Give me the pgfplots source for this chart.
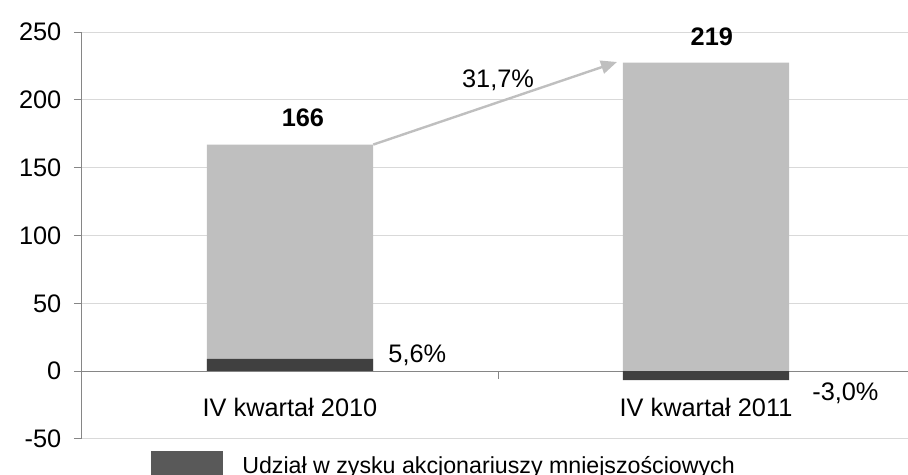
\documentclass[border=0pt]{standalone}
\usepackage{fontspec}
\setmainfont{Liberation Sans}
\usepackage{pgfplots}
\pgfplotsset{compat=1.18}
\usetikzlibrary{arrows.meta}
\definecolor{barlight}{HTML}{BFBFBF}
\definecolor{bardark}{HTML}{404040}
\definecolor{legdark}{HTML}{595959}
\definecolor{axisgray}{HTML}{868686}
\definecolor{gridgray}{HTML}{D9D9D9}
\newcommand\fs{\fontsize{19}{22}\selectfont}
\begin{document}
\begin{tikzpicture}
\useasboundingbox (-61.5pt,-27pt) rectangle (619.5pt,329.25pt);
\clip (-61.5pt,-27pt) rectangle (619.5pt,329.25pt);
\begin{axis}[
 at={(0,0)}, anchor=south west, scale only axis,
 width=624pt, height=305.25pt,
 xmin=-0.5, xmax=1.5, ymin=-50, ymax=250,
 axis y line=left, axis x line=middle,
 axis line style={draw=axisgray, line width=0.75pt, -},
 xtick={0,1}, xticklabels={IV kwartał 2010, IV kwartał 2011},
 ytick={-50,0,50,100,150,200,250}, yticklabels={-50,0,50,100,150,200,250},
 tick align=outside, major tick length=6pt,
 xtick style={draw=none}, ytick style={draw=axisgray, line width=0.75pt},
 ymajorgrids, major grid style={draw=gridgray, line width=0.75pt},
 ticklabel style={font=\fs},
 xticklabel style={yshift=-11pt}, yticklabel style={xshift=-6pt},
 clip=false,
]
\addplot[ybar, bar width=0.4, bar shift=0pt, fill=barlight, draw=none] coordinates {(0,167) (1,227.5)};
\addplot[ybar, bar width=0.4, bar shift=0pt, fill=bardark, draw=none] coordinates {(0,9) (1,-6.6)};
\draw[axisgray, line width=0.75pt] (axis cs:0.5,0) -- ([yshift=-6pt]axis cs:0.5,0);
\draw[barlight, line width=1.8pt, -{Triangle[length=12pt,width=10pt]}] (axis cs:0.2,167) -- (axis cs:0.786,227.9);
\node[font=\fs\bfseries, anchor=base, inner sep=0] at (axis cs:0.031,180.7) {166};
\node[font=\fs\bfseries, anchor=base, inner sep=0] at (axis cs:1.014,239.7) {219};
\node[font=\fs, anchor=base, inner sep=0] at (axis cs:0.5,209.4) {31,7\%};
\node[font=\fs, anchor=base west, inner sep=0] at (axis cs:0.236,6.6) {5,6\%};
\node[font=\fs, anchor=base west, inner sep=0] at (axis cs:1.255,-21.4) {-3,0\%};
\fill[legdark] ([xshift=51.75pt,yshift=-9pt]rel axis cs:0,0) rectangle ++(54pt,-25pt);
\node[font=\fontsize{17.4}{20}\selectfont, anchor=base west, inner sep=0] at ([xshift=120pt,yshift=-26.25pt]rel axis cs:0,0) {Udział w zysku akcjonariuszy mniejszościowych};
\end{axis}
\end{tikzpicture}
\end{document}
